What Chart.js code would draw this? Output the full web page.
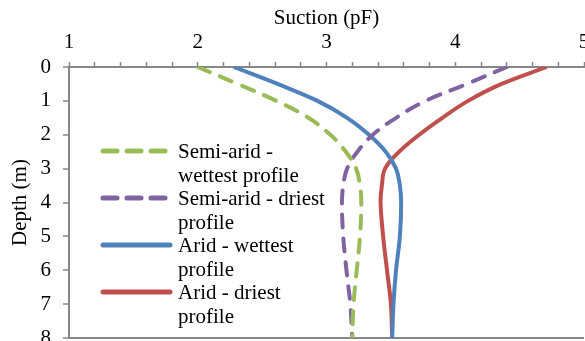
<!DOCTYPE html>
<html>
<head>
<meta charset="utf-8">
<script src="https://cdn.jsdelivr.net/npm/chart.js@4"></script>
<style>
  body { margin: 0; background: #fff; }
  #wrap { width: 585px; height: 341px; overflow: hidden; }
</style>
</head>
<body>
<div id="wrap"><canvas id="chart" width="585" height="341"></canvas></div>
<script>
// depth below surface (m)
const depths = [0, 0.5, 1, 1.5, 2, 2.5, 3, 3.5, 4, 5, 6, 7, 8];

// suction (pF)
const semiAridWettest = [2.00, 2.31, 2.61, 2.86, 3.03, 3.15, 3.23, 3.26, 3.27, 3.26, 3.235, 3.21, 3.20];
const semiAridDriest = [4.40, 4.09, 3.77, 3.54, 3.36, 3.24, 3.16, 3.13, 3.12, 3.13, 3.155, 3.185, 3.20];
const aridWettest = [2.28, 2.62, 2.93, 3.16, 3.33, 3.46, 3.54, 3.57, 3.58, 3.57, 3.54, 3.52, 3.51];
const aridDriest = [4.71, 4.36, 4.10, 3.90, 3.72, 3.565, 3.455, 3.43, 3.42, 3.44, 3.47, 3.50, 3.51];

const seriesNames = [
  ['Semi-arid -', 'wettest profile'],
  ['Semi-arid - driest', 'profile'],
  ['Arid - wettest', 'profile'],
  ['Arid - driest', 'profile']
];
const seriesColors = ['#9BBB59', '#8064A2', '#4F81BD', '#C0504D'];
const seriesDashed = [true, true, false, false];

const FONT = 'Liberation Serif, Times New Roman, serif';
const FONT_SIZE = 21;
const AXIS_GREY = '#878787';

const toPoints = vals => vals.map((v, i) => ({ x: v, y: depths[i] }));
const allSeries = [semiAridWettest, semiAridDriest, aridWettest, aridDriest];

const datasets = allSeries.map((vals, i) => ({
  label: seriesNames[i].join(' '),
  data: toPoints(vals),
  borderColor: seriesColors[i],
  backgroundColor: seriesColors[i],
  borderWidth: 4,
  borderDash: seriesDashed[i] ? [13, 11] : [],
  borderCapStyle: seriesDashed[i] ? 'round' : 'butt',
  pointRadius: 0,
  tension: 0.4,
  fill: false
}));

// legend drawn inside the plot, left side
const insideLegend = {
  id: 'insideLegend',
  afterDatasetsDraw(chart) {
    const ctx = chart.ctx;
    ctx.save();
    ctx.font = FONT_SIZE + 'px ' + FONT;
    ctx.fillStyle = '#000';
    ctx.textBaseline = 'middle';
    ctx.textAlign = 'left';
    chart.data.datasets.forEach((ds, i) => {
      const y = 151 + i * 47;
      ctx.strokeStyle = ds.borderColor;
      ctx.lineWidth = 5;
      ctx.lineCap = 'round';
      ctx.setLineDash(ds.borderDash.length ? [14, 10] : []);
      ctx.beginPath();
      ctx.moveTo(103, y);
      ctx.lineTo(170, y);
      ctx.stroke();
      seriesNames[i].forEach((line, j) => {
        ctx.fillText(line, 178, y + 1 + j * 24);
      });
    });
    ctx.restore();
  }
};

new Chart(document.getElementById('chart'), {
  type: 'line',
  data: { datasets },
  options: {
    responsive: false,
    animation: false,
    layout: { padding: { right: 1, bottom: 3 } },
    plugins: {
      legend: { display: false },
      tooltip: { enabled: false }
    },
    scales: {
      x: {
        type: 'linear',
        position: 'top',
        min: 1,
        max: 5,
        border: { color: AXIS_GREY, width: 2 },
        grid: { drawOnChartArea: false, tickLength: 5, tickColor: AXIS_GREY, tickWidth: 1.5 },
        ticks: {
          stepSize: 0.2,
          autoSkip: false,
          maxRotation: 0,
          padding: 7,
          color: '#000',
          font: { family: FONT, size: FONT_SIZE },
          callback: v => Math.abs(v - Math.round(v)) < 1e-6 ? String(Math.round(v)) : ''
        },
        title: {
          display: true,
          text: 'Suction (pF)',
          color: '#000',
          font: { family: FONT, size: FONT_SIZE },
          padding: { top: 6, bottom: 0 }
        },
        afterFit: scale => {
          scale.height = 67;
          scale.paddingLeft = 0;
          scale.paddingRight = 0;
        }
      },
      y: {
        type: 'linear',
        reverse: true,
        min: 0,
        max: 8,
        border: { color: AXIS_GREY, width: 2 },
        grid: {
          color: c => (c.tick && c.tick.value === 8 ? AXIS_GREY : 'rgba(0,0,0,0)'),
          lineWidth: 2,
          tickLength: 6,
          tickColor: AXIS_GREY,
          tickWidth: 1.5
        },
        ticks: {
          stepSize: 1,
          padding: 12,
          color: '#000',
          font: { family: FONT, size: FONT_SIZE }
        },
        title: {
          display: true,
          text: 'Depth (m)',
          color: '#000',
          font: { family: FONT, size: FONT_SIZE },
          padding: { top: 8, bottom: 0 }
        },
        afterFit: scale => {
          scale.width = 69;
          scale.paddingTop = 0;
          scale.paddingBottom = 0;
        }
      }
    }
  },
  plugins: [insideLegend]
});
</script>
</body>
</html>
